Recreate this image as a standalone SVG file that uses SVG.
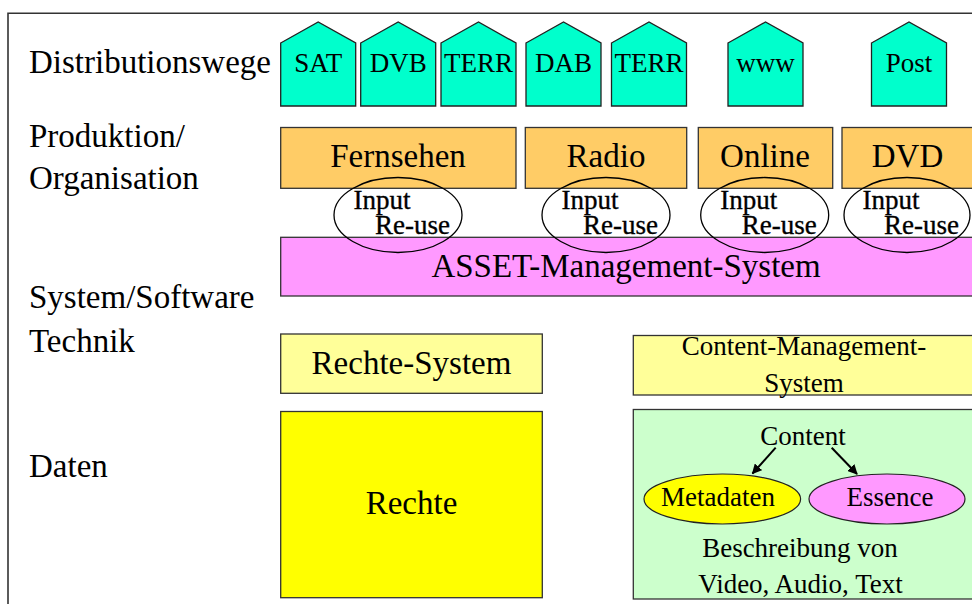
<svg xmlns="http://www.w3.org/2000/svg" width="972" height="604" viewBox="0 0 972 604">
<style>
text{font-family:"Liberation Serif","Times New Roman",serif;fill:#000}
.lbl{font-size:33px}
.pt{font-size:27px;text-anchor:middle}
.big{font-size:33px;text-anchor:middle}
.mid{font-size:27px;text-anchor:middle}
.io{font-size:27px;stroke:#000;stroke-width:0.35}
.pent{fill:#00FFCC;stroke:#222;stroke-width:1.3}
.org{fill:#FFCC66;stroke:#333;stroke-width:1.3}
.ring{fill:none;stroke:#000;stroke-width:1.3}
</style>
<defs>
<marker id="ah" viewBox="0 0 10 10" refX="9" refY="5" markerWidth="5" markerHeight="5" orient="auto" markerUnits="strokeWidth">
<path d="M0,0 L10,5 L0,10 z" fill="#000"/>
</marker>
<path id="pg" d="M0,43 L37.5,22 L75,43 L75,106 L0,106 Z"/>
</defs>
<rect width="972" height="604" fill="#fff"/>
<path d="M8,604 L8,13.3 L972,13.3" fill="none" stroke="#333" stroke-width="1.6"/>
<g id="labels">
<text class="lbl" x="29" y="73">Distributionswege</text>
<text class="lbl" x="29" y="147">Produktion/</text>
<text class="lbl" x="29" y="188.5">Organisation</text>
<text class="lbl" x="29" y="307.5">System/Software</text>
<text class="lbl" x="29" y="351.5">Technik</text>
<text class="lbl" x="29" y="477">Daten</text>
</g>
<g id="sat"><use href="#pg" class="pent" x="280.7"/><text class="pt" x="318.2" y="72">SAT</text></g>
<g id="dvb"><use href="#pg" class="pent" x="360.7"/><text class="pt" x="398.2" y="72">DVB</text></g>
<g id="terr1"><use href="#pg" class="pent" x="441"/><text class="pt" x="478.5" y="72">TERR</text></g>
<g id="dab"><use href="#pg" class="pent" x="526"/><text class="pt" x="563.5" y="72">DAB</text></g>
<g id="terr2"><use href="#pg" class="pent" x="611.5"/><text class="pt" x="649" y="72">TERR</text></g>
<g id="www"><use href="#pg" class="pent" x="728"/><text class="pt" x="765.5" y="72">www</text></g>
<g id="post"><use href="#pg" class="pent" x="871.5"/><text class="pt" x="909" y="72">Post</text></g>
<g id="fernsehen"><rect class="org" x="280.7" y="127.5" width="235.3" height="60.8"/><text class="big" x="398" y="167">Fernsehen</text></g>
<g id="radio"><rect class="org" x="525.3" y="127.5" width="161.4" height="60.8"/><text class="big" x="606" y="167">Radio</text></g>
<g id="online"><rect class="org" x="698.3" y="127.5" width="134.4" height="60.8"/><text class="big" x="765" y="167">Online</text></g>
<g id="dvd"><rect class="org" x="842" y="127.5" width="135" height="60.8"/><text class="big" x="907.5" y="167">DVD</text></g>
<g id="asset"><rect x="280.7" y="237.3" width="700" height="58.7" fill="#FF99FF" stroke="#333" stroke-width="1.3"/><text class="big" x="626" y="277">ASSET-Management-System</text></g>
<g id="reuse1"><ellipse class="ring" cx="398" cy="215" rx="64" ry="37.5"/><text class="io" x="353.5" y="209">Input</text><text class="io" x="375" y="234">Re-use</text></g>
<g id="reuse2"><ellipse class="ring" cx="606" cy="215" rx="64" ry="37.5"/><text class="io" x="561.5" y="209">Input</text><text class="io" x="583" y="234">Re-use</text></g>
<g id="reuse3"><ellipse class="ring" cx="764.7" cy="215" rx="64" ry="37.5"/><text class="io" x="720.2" y="209">Input</text><text class="io" x="741.7" y="234">Re-use</text></g>
<g id="reuse4"><ellipse class="ring" cx="907" cy="215" rx="63" ry="37.5"/><text class="io" x="862.5" y="209">Input</text><text class="io" x="884" y="234">Re-use</text></g>
<g id="rechtesystem"><rect x="280.7" y="334" width="261.6" height="59.3" fill="#FFFF99" stroke="#333" stroke-width="1.3"/><text class="big" x="411.5" y="373.5">Rechte-System</text></g>
<g id="cms"><rect x="633.3" y="335.5" width="345" height="59.5" fill="#FFFF99" stroke="#333" stroke-width="1.3"/><text class="mid" x="804" y="355">Content-Management-</text><text class="mid" x="804" y="391.5">System</text></g>
<g id="rechte"><rect x="280.7" y="411.5" width="261.6" height="186.2" fill="#FFFF00" stroke="#333" stroke-width="1.3"/><text class="big" x="411.5" y="514">Rechte</text></g>
<g id="daten"><rect x="633.3" y="409.5" width="345" height="189.5" fill="#CCFFCC" stroke="#333" stroke-width="1.3"/>
<text class="mid" x="803" y="445">Content</text>
<text class="mid" x="800" y="557">Beschreibung von</text>
<text class="mid" x="800.5" y="593">Video, Audio, Text</text></g>
<g id="metadaten"><ellipse cx="722.3" cy="499" rx="78.3" ry="25" fill="#FFFF00" stroke="#222" stroke-width="1.2"/><text class="mid" x="718" y="506">Metadaten</text></g>
<g id="essence"><ellipse cx="887" cy="499" rx="78" ry="25" fill="#FF99FF" stroke="#222" stroke-width="1.2"/><text class="mid" x="890" y="506">Essence</text></g>
<g id="connectors" stroke="#000" stroke-width="2" fill="none">
<line x1="775.7" y1="447.7" x2="752.5" y2="473.5" marker-end="url(#ah)"/>
<line x1="831.7" y1="447.7" x2="857" y2="474" marker-end="url(#ah)"/>
</g>
</svg>
